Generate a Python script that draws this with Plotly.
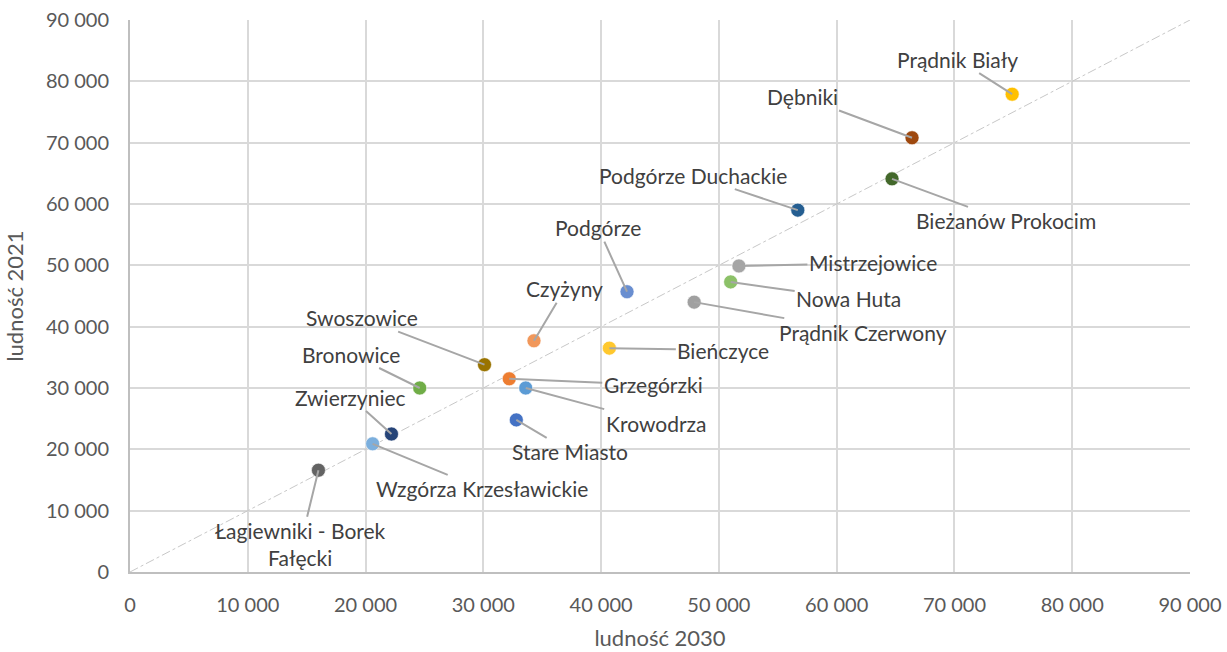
import plotly.graph_objects as go

districts = ["Prądnik Biały", "Dębniki", "Bieżanów Prokocim", "Podgórze Duchackie",
             "Mistrzejowice", "Nowa Huta", "Prądnik Czerwony", "Podgórze", "Bieńczyce",
             "Czyżyny", "Swoszowice", "Grzegórzki", "Krowodrza", "Bronowice",
             "Stare Miasto", "Zwierzyniec", "Wzgórza Krzesławickie",
             "Łagiewniki - Borek<br>Fałęcki"]
pop_2030 = [74900, 66400, 64700, 56700, 51700, 51000, 47900, 42200, 40700,
            34300, 30100, 32200, 33600, 24600, 32800, 22200, 20600, 16000]
pop_2021 = [77900, 70800, 64100, 59000, 49900, 47300, 44000, 45700, 36500,
            37700, 33800, 31500, 30000, 30000, 24800, 22500, 20900, 16600]
colors = ["#FFC000", "#9E480E", "#43682B", "#255E91", "#A5A5A5", "#8CC168",
          "#A0A0A0", "#698ED0", "#FFC82E", "#F1975A", "#997300", "#ED7D31",
          "#5B9BD5", "#70AD47", "#4472C4", "#264478", "#7CAFDD", "#636363"]
# label offsets (pixels) from each point
label_dx = [-55, -110, 114, -105, 134, 118, 169, -29, 114, 31, -123, 144, 130, -69, 54, -41, 109, -18]
label_dy = [-35, -41, 42, -35, -3, 17, 30, -64, 2, -52, -47, 6, 35, -34, 32, -37, 45, 74]

tick_vals = [0, 10000, 20000, 30000, 40000, 50000, 60000, 70000, 80000, 90000]
tick_text = ["0", "10 000", "20 000", "30 000", "40 000", "50 000", "60 000",
             "70 000", "80 000", "90 000"]

FONT = "Lato"
fig = go.Figure()

fig.add_trace(go.Scatter(
    x=[0, 90000], y=[0, 90000], mode="lines",
    line=dict(color="#C8C8C8", width=1, dash="dashdot"),
    hoverinfo="skip", showlegend=False))

fig.add_trace(go.Scatter(
    x=pop_2030, y=pop_2021, mode="markers",
    marker=dict(size=14, color=colors, line=dict(color="rgba(255,255,255,0.6)", width=1)),
    text=districts, showlegend=False))

for name, x, y, dx, dy in zip(districts, pop_2030, pop_2021, label_dx, label_dy):
    fig.add_annotation(
        x=x, y=y, text=name, showarrow=True, arrowhead=0, arrowwidth=2,
        arrowcolor="#A6A6A6", ax=dx, ay=dy, standoff=0,
        font=dict(family=FONT, size=21, color="#404040"))

axis_common = dict(
    range=[0, 90000], tickvals=tick_vals, ticktext=tick_text,
    showgrid=True, gridcolor="#D9D9D9", gridwidth=2,
    showline=True, linecolor="#BFBFBF", linewidth=2,
    zeroline=False, ticks="", automargin=False,
    tickfont=dict(family=FONT, size=20, color="#595959"))

fig.update_layout(
    width=1227, height=652,
    margin=dict(l=130, r=37, t=20, b=80),
    plot_bgcolor="white", paper_bgcolor="white",
    xaxis=dict(**axis_common, ticklabelstandoff=14,
               title=dict(text="ludność 2030", standoff=16,
                          font=dict(family=FONT, size=22, color="#595959"))),
    yaxis=dict(**axis_common, ticklabelstandoff=15,
               title=dict(text="ludność 2021", standoff=16,
                          font=dict(family=FONT, size=22, color="#595959"))),
)

fig.write_html(
    "out.html",
    config={"displayModeBar": False},
    post_script="document.body.style.margin='0';document.body.style.overflow='hidden';")
